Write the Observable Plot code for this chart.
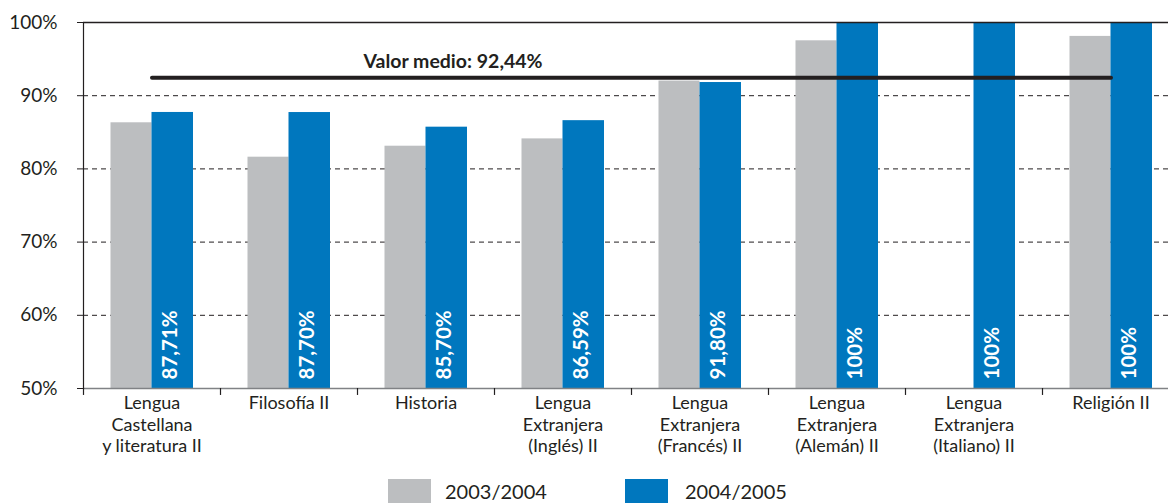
<!DOCTYPE html>
<html><head><meta charset="utf-8">
<script src="https://cdn.jsdelivr.net/npm/d3@7"></script>
<script src="https://cdn.jsdelivr.net/npm/@observablehq/plot@0.6"></script>
<style>
body{margin:0;overflow:hidden;background:#fff;font-family:Lato,sans-serif;color:#231f20;width:1168px;height:503px;position:relative}
#chart{position:absolute;left:0;top:0}
#legend{position:absolute;left:0;top:479px;height:24px;width:1168px}
.sw{position:absolute;top:0;width:43px;height:24px}
.lt{position:absolute;top:0;font-size:20px;line-height:24px;white-space:nowrap}
</style></head><body><div id="chart"></div><div id="legend"></div>
<script>
const categories = [
  "Lengua\nCastellana\ny literatura II",
  "Filosofía II",
  "Historia",
  "Lengua\nExtranjera\n(Inglés) II",
  "Lengua\nExtranjera\n(Francés) II",
  "Lengua\nExtranjera\n(Alemán) II",
  "Lengua\nExtranjera\n(Italiano) II",
  "Religión II"
];
const series = ["2003/2004", "2004/2005"];
const values2003 = [86.3, 81.6, 83.1, 84.1, 92.0, 97.5, null, 98.1];
const values2004 = [87.71, 87.70, 85.70, 86.59, 91.80, 100, 100, 100];
const labels2004 = ["87,71%", "87,70%", "85,70%", "86,59%", "91,80%", "100%", "100%", "100%"];
const meanValue = 92.44;
const meanLabel = "Valor medio: 92,44%";
const yTicks = [50, 60, 70, 80, 90, 100];
const gridTicks = [60, 70, 80, 90];
const colors = ["#bcbec0", "#0077be"];

const data = categories.map((c, i) => ({cat: c, a: values2003[i], b: values2004[i], label: labels2004[i]}));

const chart = Plot.plot({
  width: 1179, height: 465,
  marginLeft: 83, marginRight: 0, marginTop: 22, marginBottom: 77,
  style: {fontFamily: "Lato, sans-serif", color: "#231f20", maxWidth: "none", overflow: "visible", background: "#fff"},
  x: {domain: categories, padding: 0, label: null},
  y: {domain: [50, 100], label: null},
  marks: [
    Plot.ruleY(gridTicks, {stroke: "#231f20", strokeDasharray: "5,4", strokeWidth: 1}),
    Plot.barY(data.filter(d => d.a != null), {x: "cat", y1: 50, y2: "a", fill: colors[0], insetLeft: 27.5, insetRight: 68.5}),
    Plot.barY(data, {x: "cat", y1: 50, y2: "b", fill: colors[1], insetLeft: 68.5, insetRight: 27}),
    Plot.ruleY([100], {stroke: "#231f20", strokeWidth: 1.6}),
    Plot.ruleY([50], {stroke: "#808285", strokeWidth: 1.5}),
    Plot.frame({anchor: "left", stroke: "#231f20", strokeWidth: 1.2}),
    Plot.ruleX(categories, {x: d => d, y1: 50, y2: 49.05, dx: -68.5, stroke: "#231f20", strokeWidth: 1.2}),
    Plot.lineY(data, {x: "cat", y: () => meanValue, stroke: "#231f20", strokeWidth: 4}),
    Plot.text([meanLabel], {x: () => categories[2], y: () => meanValue, text: d => d, dx: 27, dy: -16, fontWeight: "bold", fontSize: 19.5, fill: "#231f20"}),
    Plot.text(data, {x: "cat", y: () => 50, text: "label", rotate: -90, textAnchor: "start", dx: 18, dy: -9, fill: "white", fontWeight: "bold", fontSize: 20.5}),
    Plot.axisY({ticks: yTicks, tickFormat: d => d + "%", tickSize: 6, tickPadding: 20, fontSize: 19, label: null}),
    Plot.axisX({tickSize: 0, tickPadding: 6, fontSize: 18, lineHeight: 1.17, label: null})
  ]
});
document.getElementById("chart").appendChild(chart);

const legend = document.getElementById("legend");
const legendPos = [[388, 445], [625, 685]];
series.forEach((s, i) => {
  const sw = document.createElement("div");
  sw.className = "sw"; sw.style.left = legendPos[i][0] + "px"; sw.style.background = colors[i];
  const t = document.createElement("div");
  t.className = "lt"; t.style.left = legendPos[i][1] + "px"; t.textContent = s;
  legend.appendChild(sw); legend.appendChild(t);
});
</script></body></html>
